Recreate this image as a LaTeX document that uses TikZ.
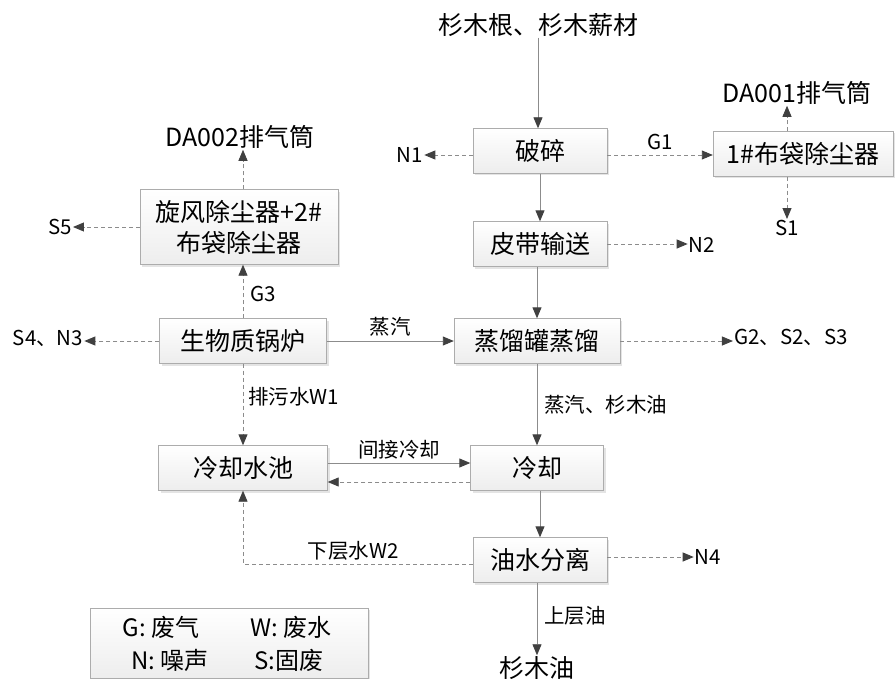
\documentclass[tikz,border=0pt]{standalone}
\usepackage{fontspec}
\setmainfont{Noto Sans CJK SC}
\usetikzlibrary{arrows.meta,shadows}
\definecolor{linec}{HTML}{8C8C8C}
\definecolor{tipc}{HTML}{404040}
\begin{document}
\begin{tikzpicture}[x=1pt,y=-1pt,
  procbox/.style={draw=gray!65, top color=white, bottom color=gray!14,
    drop shadow={shadow xshift=2pt,shadow yshift=-2pt,fill=gray!35,opacity=0.6},
    minimum height=45pt, inner sep=2pt, font=\fontsize{25}{29}\selectfont, align=center},
  lbl/.style={inner sep=1pt, font=\fontsize{20.5}{24}\selectfont},
  plain/.style={inner sep=1pt, font=\fontsize{25}{29}\selectfont},
  arr/.style={draw=linec, line width=0.9pt, -{Triangle[width=9pt,length=11pt,fill=tipc,color=tipc]}},
  darr/.style={arr, dash pattern=on 4pt off 3pt}
]
\useasboundingbox (0,0) rectangle (896,679);

% process boxes
\node[procbox, minimum width=134pt] (crush) at (540,151) {破碎};
\node[procbox, minimum width=180pt] (bag1) at (803,154) {1\#布袋除尘器};
\node[procbox, minimum width=134pt] (belt) at (540,244) {皮带输送};
\node[procbox, minimum width=198pt, minimum height=75pt, font=\fontsize{25}{31}\selectfont] (cyc) at (239,227) {旋风除尘器+2\#\\布袋除尘器};
\node[procbox, minimum width=167pt] (boiler) at (243,341) {生物质锅炉};
\node[procbox, minimum width=166pt] (still) at (537,341) {蒸馏罐蒸馏};
\node[procbox, minimum width=133pt] (cool) at (537,468) {冷却};
\node[procbox, minimum width=169pt] (pool) at (243,468) {冷却水池};
\node[procbox, minimum width=134pt] (sep) at (540,560) {油水分离};

% plain text nodes
\node[plain] (src) at (538,25) {杉木根、杉木薪材};
\node[plain] (da1) at (797,93) {DA001排气筒};
\node[lbl] (s1) at (787,228) {S1};
\node[lbl] (n1) at (410,155) {N1};
\node[lbl] (n2) at (702,245) {N2};
\node[plain] (da2) at (240,137) {DA002排气筒};
\node[lbl] (s5) at (60,227) {S5};
\node[lbl] (s4) at (48,338) {S4、N3};
\node[lbl] (g2) at (791,337) {G2、S2、S3};
\node[lbl] (n4) at (708,557) {N4};
\node[plain] (oil) at (537,668) {杉木油};

% helper coordinates
\coordinate (cw) at ([yshift=-4pt]crush.west);
\coordinate (ce) at ([yshift=-4pt]crush.east);
\coordinate (pe1) at ([yshift=5pt]pool.east);
\coordinate (cw1) at ([yshift=5pt]cool.west);
\coordinate (pe2) at ([yshift=-14pt]pool.east);
\coordinate (cw2) at ([yshift=-14pt]cool.west);
\coordinate (sw) at ([yshift=-4pt]sep.west);
\coordinate (se) at ([yshift=3pt]sep.east);
\coordinate (dx) at (787,0);

% connectors
\draw[arr] (src.south) -- (src.south |- crush.north);
\draw[arr] (crush) -- (belt);
\draw[arr] (belt.south -| still.north) -- (still.north);
\draw[arr] (still) -- node[lbl, right=6pt, pos=0.5] {蒸汽、杉木油} (cool);
\draw[arr] (cool.south -| sep.north) -- (sep.north);
\draw[arr] (sep.south -| oil.north) -- node[lbl, right=6pt, pos=0.45] {上层油} (oil.north);
\draw[arr] (boiler.east) -- node[lbl, above=3pt] {蒸汽} (still.west);
\draw[arr] (pe1) -- node[lbl, above=2pt] {间接冷却} (cw1);

\draw[darr] (cw) -- (n1.east |- cw);
\draw[darr] (ce) -- node[lbl, above=4pt] {G1} (ce -| bag1.west);
\draw[darr] (dx |- bag1.north) -- (dx |- da1.south);
\draw[darr] (s1.north |- bag1.south) -- (s1.north);
\draw[darr] (belt.east) -- (n2.west |- belt.east);
\draw[darr] (boiler.north) -- node[lbl, right=6pt, pos=0.45] {G3} (boiler.north |- cyc.south);
\draw[darr] (boiler.north |- cyc.north) -- (da2.south -| boiler.north);
\draw[darr] (cyc.west) -- (s5.east);
\draw[darr] (boiler.west) -- (s4.east |- boiler.west);
\draw[darr] (still.east) -- (g2.west |- still.east);
\draw[darr] (boiler.south) -- node[lbl, right=4pt, pos=0.4] {排污水W1} (pool.north);
\draw[darr] (cw2) -- (pe2);
\draw[darr] (sw) -- node[lbl, above=2pt, pos=0.52] {下层水W2} (sw -| pool.south) -- (pool.south);
\draw[darr] (se) -- (n4.west |- se);

% legend
\node[procbox, minimum width=278pt, minimum height=70pt] (legend) at (229,643) {};
\node[plain, font=\fontsize{24}{28}\selectfont] (lg) at (161,627) {G: 废气};
\node[plain, font=\fontsize{24}{28}\selectfont] (lw) at (291,627) {W: 废水};
\node[plain, font=\fontsize{24}{28}\selectfont] (ln) at (170,660) {N: 噪声};
\node[plain, font=\fontsize{24}{28}\selectfont] (ls) at (289,660) {S:固废};
\end{tikzpicture}
\end{document}
